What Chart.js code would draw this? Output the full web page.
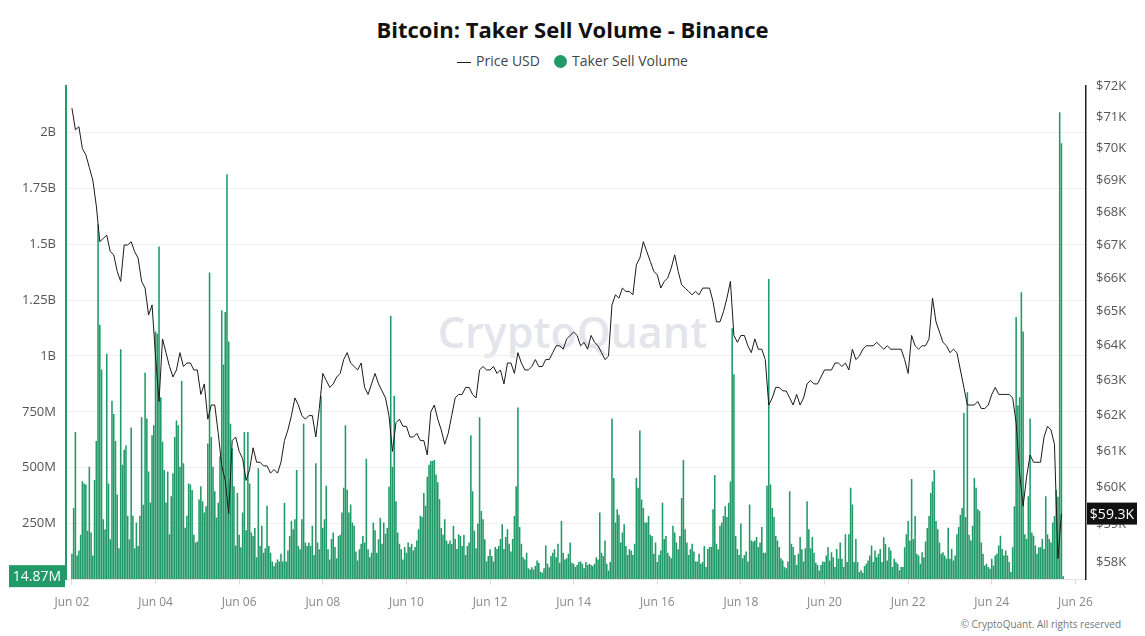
<!DOCTYPE html>
<html>
<head>
<meta charset="utf-8">
<title>Bitcoin: Taker Sell Volume - Binance</title>
<script src="https://cdn.jsdelivr.net/npm/chart.js@4.4.1/dist/chart.umd.min.js"></script>
<style>
  body { margin: 0; background: #fff; font-family: "Open Sans", "Noto Sans", sans-serif; }
  #wrap { position: relative; width: 1145px; height: 636px; overflow: hidden; }
  #chart { position: absolute; left: 0; top: 0; z-index: 1; }
  #title { position: absolute; top: 14px; left: 0; width: 1145px; text-align: center;
           font-weight: 700; font-size: 22px; line-height: 30px; color: #111; }
  #legend { position: absolute; top: 51px; left: 0; width: 1145px; text-align: center;
            font-size: 14px; line-height: 20px; color: #444; }
  #legend .ln { display: inline-block; width: 14px; height: 1px; background: #222;
                vertical-align: middle; margin-right: 5px; }
  #legend .dot { display: inline-block; width: 13px; height: 13px; border-radius: 50%;
                 background: rgb(34,154,104); vertical-align: -2px; margin: 0 5px 0 14px; }
  #watermark { position: absolute; top: 302px; left: 0; width: 1145px; text-align: center;
               font-size: 43px; line-height: 60px; font-weight: 600; color: #e4e5eb; z-index: 0; }
  #footer { position: absolute; top: 617px; right: 24px; font-size: 10px; line-height: 14px; color: #777; }
</style>
</head>
<body>
<div id="wrap">
  <div id="title">Bitcoin: Taker Sell Volume - Binance</div>
  <div id="legend"><span class="ln"></span>Price USD<span class="dot"></span>Taker Sell Volume</div>
  <div id="watermark">CryptoQuant</div>
  <canvas id="chart" width="1145" height="636"></canvas>
  <div id="footer">© CryptoQuant. All rights reserved</div>
</div>
<script>
// hourly taker sell volume, millions USD (Jun 02 00:00 onward)
const volJun02 = [115,320,660,107,130,200,440,430,425,218,505,210,107,445,620,1590,1140,940,270,225,1010,430,180,800];
const volJun03 = [740,620,380,140,1030,513,580,600,285,180,680,285,140,255,150,285,726,335,925,720,483,345,645,690];
const volJun04 = [1110,1100,1490,815,616,490,345,483,203,372,475,638,711,690,505,888,520,232,285,430,425,400,200,166];
const volJun05 = [170,358,417,350,300,328,608,1374,638,505,395,277,343,550,1205,962,1197,1813,1065,697,586,417,152,387];
const volJun06 = [200,144,300,660,220,660,430,210,195,230,100,498,150,240,120,140,330,150,120,80,60,75,90,80];
const volJun07 = [115,80,343,80,130,195,262,225,270,490,150,135,270,697,165,150,165,150,240,110,520,165,135,820];
const volJun08 = [232,270,420,135,90,181,210,145,95,195,200,300,410,690,402,300,336,255,240,125,85,135,160,195];
const volJun09 = [165,540,135,100,120,255,220,120,180,275,160,255,205,230,415,1180,505,822,350,210,160,135,90,145];
const volJun10 = [120,165,145,160,130,145,175,225,285,280,387,330,460,513,530,530,535,470,435,360,230,200,270,175];
const volJun11 = [160,174,159,240,181,137,203,196,150,200,110,150,165,645,395,218,140,250,726,306,270,180,80,105];
const volJun12 = [135,105,80,145,137,150,181,247,137,190,225,160,125,181,284,417,770,235,160,100,90,120,50,45];
const volJun13 = [55,45,60,85,75,35,30,50,152,70,55,105,120,135,100,160,75,262,120,90,95,115,165,75];
const volJun14 = [70,56,65,78,80,70,50,78,65,70,65,60,70,100,90,300,120,105,174,70,40,78,720,454];
const volJun15 = [255,314,290,165,210,247,150,110,135,130,110,160,454,410,667,358,320,255,255,284,200,195,115,165];
const volJun16 = [78,110,130,343,181,195,120,105,95,240,210,165,135,195,365,535,225,165,110,135,160,125,80,80];
const volJun17 = [115,70,78,150,56,137,145,145,314,468,160,135,240,255,284,328,280,343,439,1124,918,195,137,110];
const volJun18 = [250,95,110,125,80,336,175,170,175,190,145,165,235,120,120,421,1345,425,320,280,195,175,145,95];
const volJun19 = [85,56,50,80,395,160,145,110,65,115,190,135,80,140,350,225,140,190,120,75,65,40,65,80];
const volJun20 = [78,107,144,85,122,100,56,137,93,166,93,56,203,78,203,410,336,78,181,78,34,41,30,60];
const volJun21 = [70,85,107,152,78,130,100,115,137,78,189,159,85,144,130,56,93,78,70,41,56,56,144,203];
const volJun22 = [262,174,450,181,284,115,107,70,122,100,170,230,284,387,439,490,262,225,166,115,122,107,93,232];
const volJun23 = [93,137,85,107,203,235,290,320,745,280,838,200,175,240,454,410,314,306,166,115,63,70,56,48];
const volJun24 = [93,63,107,115,152,196,137,107,130,107,78,34,144,328,1175,780,815,1285,1110,203,181,373,720,210];
const volJun25 = [196,152,115,144,144,181,137,373,203,181,166,255,284,400,370,2090,1952,14.87];

// BTC price, thousands USD, every 2 hours
const priceJun02 = [71.3,70.6,70.7,70.0,69.8,69.4,69.0,68.2,67.1,67.2,67.3,66.8];
const priceJun03 = [66.7,66.2,65.9,67.0,67.0,67.1,66.8,66.6,65.9,65.7,64.9,65.2];
const priceJun04 = [63.7,62.4,64.2,63.8,63.4,63.1,63.3,63.8,63.4,63.5,63.5,63.3];
const priceJun05 = [63.3,62.6,62.9,61.9,62.3,62.3,61.5,60.6,60.2,59.3,61.3,61.4];
const priceJun06 = [61.0,60.8,60.2,60.5,61.1,60.7,60.7,60.6,60.6,60.4,60.5,60.4];
const priceJun07 = [60.7,61.3,61.6,62.0,62.5,62.3,62.0,61.9,62.0,62.0,61.4,62.2];
const priceJun08 = [63.2,63.0,62.8,62.9,63.1,63.2,63.6,63.8,63.5,63.4,63.3,63.5];
const priceJun09 = [62.8,62.6,62.9,63.2,62.9,62.7,62.5,62.0,61.0,61.8,61.9,61.7];
const priceJun10 = [61.7,61.4,61.4,61.5,61.3,61.3,60.9,62.1,62.3,61.9,61.6,61.2];
const priceJun11 = [61.5,62.0,62.5,62.6,62.6,62.8,62.8,62.6,62.5,63.3,63.4,63.3];
const priceJun12 = [63.3,63.4,63.2,63.3,62.9,63.5,63.5,63.2,63.8,63.5,63.3,63.3];
const priceJun13 = [63.4,63.6,63.4,63.4,63.6,63.6,63.8,64.0,64.0,63.9,64.2,64.3];
const priceJun14 = [64.4,64.3,64.0,64.1,63.9,64.3,64.1,64.0,63.8,63.6,63.7,65.2];
const priceJun15 = [65.5,65.4,65.7,65.6,65.6,65.5,66.4,66.6,67.1,66.8,66.5,66.2];
const priceJun16 = [66.1,65.7,65.9,66.0,66.3,66.7,66.2,65.8,65.7,65.6,65.5,65.6];
const priceJun17 = [65.5,65.7,65.7,65.7,65.3,64.7,64.7,65.0,65.4,65.9,64.3,64.1];
const priceJun18 = [64.3,64.3,64.0,63.8,64.2,63.9,63.9,63.6,62.3,62.5,62.8,62.8];
const priceJun19 = [62.7,62.7,62.5,62.3,62.6,62.3,62.5,62.9,63.0,62.9,62.9,63.1];
const priceJun20 = [63.3,63.3,63.3,63.5,63.5,63.4,63.5,63.3,63.9,63.6,63.7,63.9];
const priceJun21 = [64.0,64.0,64.0,64.1,64.0,63.9,64.0,63.9,63.9,63.9,63.9,63.6];
const priceJun22 = [63.2,64.3,64.0,63.9,64.0,64.0,64.2,65.4,64.7,64.4,64.1,64.0];
const priceJun23 = [63.8,63.9,63.8,63.3,62.8,62.3,62.3,62.3,62.4,62.2,62.2,62.3];
const priceJun24 = [62.6,62.8,62.6,62.6,62.6,62.6,62.5,61.8,60.4,59.5,60.3,60.9];
const priceJun25 = [60.7,60.7,60.7,61.4,61.7,61.6,61.2,58.1,59.3];

const xTickHours = [0,48,96,144,192,240,288,336,384,432,480,528,576];
const xTickLabels = ['Jun 02','Jun 04','Jun 06','Jun 08','Jun 10','Jun 12','Jun 14','Jun 16','Jun 18','Jun 20','Jun 22','Jun 24','Jun 26'];
const volTicks = [0,250e6,500e6,750e6,1e9,1.25e9,1.5e9,1.75e9,2e9];
const priceTicks = [58000,59000,60000,61000,62000,63000,64000,65000,66000,67000,68000,69000,70000,71000,72000];

const takerSellVolumeM = [volJun02,volJun03,volJun04,volJun05,volJun06,volJun07,volJun08,volJun09,volJun10,
  volJun11,volJun12,volJun13,volJun14,volJun15,volJun16,volJun17,volJun18,volJun19,volJun20,volJun21,
  volJun22,volJun23,volJun24,volJun25].flat();
const priceUsdK = [priceJun02,priceJun03,priceJun04,priceJun05,priceJun06,priceJun07,priceJun08,priceJun09,
  priceJun10,priceJun11,priceJun12,priceJun13,priceJun14,priceJun15,priceJun16,priceJun17,priceJun18,
  priceJun19,priceJun20,priceJun21,priceJun22,priceJun23,priceJun24,priceJun25].flat();

const green = 'rgb(34,154,104)';

function fmtVolume(v) {
  if (v >= 1e9) return (v / 1e9) + 'B';
  return (v / 1e6) + 'M';
}

// value tags on both axes for the latest point
const lastValueTags = {
  id: 'lastValueTags',
  afterDraw(chart) {
    const ctx = chart.ctx;
    const area = chart.chartArea;
    const lastVol = takerSellVolumeM[takerSellVolumeM.length - 1];
    const lastPrice = priceUsdK[priceUsdK.length - 1];
    ctx.save();
    ctx.font = '14px "Open Sans", sans-serif';
    ctx.textBaseline = 'middle';
    ctx.textAlign = 'center';

    let y = chart.scales.y.getPixelForValue(lastVol * 1e6);
    ctx.fillStyle = green;
    ctx.fillRect(9, y - 11, area.left - 10, 22);
    ctx.fillStyle = '#fff';
    ctx.fillText(lastVol.toFixed(2) + 'M', 9 + (area.left - 10) / 2, y + 1);

    y = chart.scales.y1.getPixelForValue(lastPrice * 1000);
    ctx.fillStyle = '#111';
    ctx.fillRect(area.right + 1, y - 11, 50, 22);
    ctx.fillStyle = '#fff';
    ctx.fillText('$' + lastPrice.toFixed(1) + 'K', area.right + 26, y + 1);
    ctx.restore();
  }
};

const ctx = document.getElementById('chart').getContext('2d');
new Chart(ctx, {
  data: {
    datasets: [
      {
        type: 'line',
        label: 'Price USD',
        data: priceUsdK.map((p, j) => ({ x: j * 2, y: p * 1000 })),
        yAxisID: 'y1',
        borderColor: '#1a1a1a',
        borderWidth: 1,
        pointRadius: 0,
        tension: 0,
        order: 0
      },
      {
        type: 'bar',
        label: 'Taker Sell Volume',
        data: takerSellVolumeM.map((v, i) => ({ x: i, y: v * 1e6 })),
        yAxisID: 'y',
        backgroundColor: green,
        borderWidth: 0,
        barPercentage: 0.9,
        categoryPercentage: 1,
        order: 1
      }
    ]
  },
  options: {
    responsive: false,
    animation: false,
    layout: { padding: { top: 86, left: 0, right: 0, bottom: 0 } },
    plugins: {
      legend: { display: false },
      title: { display: false },
      tooltip: { enabled: false }
    },
    scales: {
      x: {
        type: 'linear',
        offset: false,
        min: -3.4,
        max: 582.1,
        afterBuildTicks: scale => { scale.ticks = xTickHours.map(v => ({ value: v })); },
        afterFit: scale => { scale.height = 56.5; },
        ticks: {
          autoSkip: false,
          maxRotation: 0,
          padding: 11,
          color: '#888',
          font: { size: 12, family: '"Open Sans", sans-serif' },
          callback: v => xTickLabels[xTickHours.indexOf(v)]
        },
        grid: { drawOnChartArea: false, drawTicks: true, tickLength: 5, color: '#d8d8d8', offset: false },
        border: { color: '#e2e2e2' }
      },
      y: {
        position: 'left',
        min: 0,
        max: 2.208e9,
        afterBuildTicks: scale => { scale.ticks = volTicks.map(v => ({ value: v })); },
        afterFit: scale => { scale.width = 66; },
        ticks: {
          autoSkip: false,
          padding: 10,
          color: '#555',
          font: { size: 13, family: '"Open Sans", sans-serif' },
          callback: v => (v === 0 ? '' : fmtVolume(v))
        },
        grid: { color: '#efefef', drawTicks: false },
        border: { color: green, width: 2 }
      },
      y1: {
        type: 'logarithmic',
        position: 'right',
        min: 57550,
        max: 72020,
        afterBuildTicks: scale => { scale.ticks = priceTicks.map(v => ({ value: v })); },
        afterFit: scale => { scale.width = 59; },
        ticks: {
          autoSkip: false,
          padding: 10,
          color: '#555',
          font: { size: 13, family: '"Open Sans", sans-serif' },
          callback: v => '$' + (v / 1000) + 'K'
        },
        grid: { drawOnChartArea: false, drawTicks: false },
        border: { color: '#222', width: 1.5 }
      }
    }
  },
  plugins: [lastValueTags]
});
</script>
</body>
</html>
